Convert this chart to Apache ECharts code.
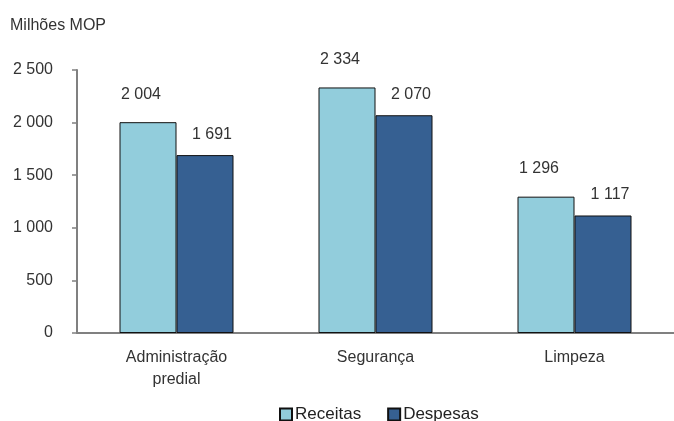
<!DOCTYPE html>
<html><head><meta charset="utf-8">
<script src="https://cdn.jsdelivr.net/npm/echarts@6/dist/echarts.min.js"></script>
<style>html,body{margin:0;padding:0;background:#fff}#c{width:674px;height:421px}</style>
</head><body><div id="c"></div>
<script>
const categories = ['Administração\npredial', 'Segurança', 'Limpeza'];
const receitas = [2004, 2334, 1296];
const despesas = [1691, 2070, 1117];
const yTicks = [0, 500, 1000, 1500, 2000, 2500];
const FONT = '"Liberation Sans Narrow", "Arial Narrow", "Liberation Sans", sans-serif';
function fmt(v){ return String(v).replace(/\B(?=(\d{3})+(?!\d))/g, ' '); }
const chart = echarts.init(document.getElementById('c'));
chart.setOption({
  animation: false,
  textStyle: { fontFamily: FONT, color: '#333' },
  graphic: [{ type: 'text', left: 10, top: 18, style: { text: 'Milhões MOP', font: '16px ' + FONT, fill: '#333' } }],
  legend: {
    top: 401, left: 274, itemGap: 26, itemWidth: 12, itemHeight: 12, icon: 'rect',
    textStyle: { fontSize: 17, fontFamily: FONT, color: '#222', padding: [0,0,0,-2] },
    data: ['Receitas', 'Despesas']
  },
  grid: { left: 77, top: 70, width: 601, height: 263 },
  xAxis: {
    type: 'category', data: categories,
    axisLine: { lineStyle: { color: '#808080', width: 2 } },
    axisTick: { show: false },
    axisLabel: { fontSize: 16, fontFamily: FONT, color: '#333', margin: 14, lineHeight: 22 }
  },
  yAxis: {
    type: 'value', min: yTicks[0], max: yTicks[yTicks.length-1], interval: 500,
    axisLine: { show: true, lineStyle: { color: '#808080', width: 2 } },
    axisTick: { show: true, length: 5, lineStyle: { color: '#808080', width: 1.5 } },
    splitLine: { show: false },
    axisLabel: { fontSize: 16, fontFamily: FONT, color: '#333', margin: 24, formatter: fmt }
  },
  series: [
    { name: 'Receitas', type: 'bar', data: receitas, barWidth: 57, barGap: '0%',
      itemStyle: { color: '#92CDDC', borderColor: '#111', borderWidth: 1 },
      label: { show: true, position: 'top', distance: 20, offset: [-7, 0], fontSize: 16, fontFamily: FONT, color: '#333', formatter: p => fmt(p.value) } },
    { name: 'Despesas', type: 'bar', data: despesas, barWidth: 57,
      itemStyle: { color: '#366092', borderColor: '#111', borderWidth: 1 },
      label: { show: true, position: 'top', distance: 13, offset: [7, 0], fontSize: 16, fontFamily: FONT, color: '#333', formatter: p => fmt(p.value) } }
  ]
});
</script></body></html>
